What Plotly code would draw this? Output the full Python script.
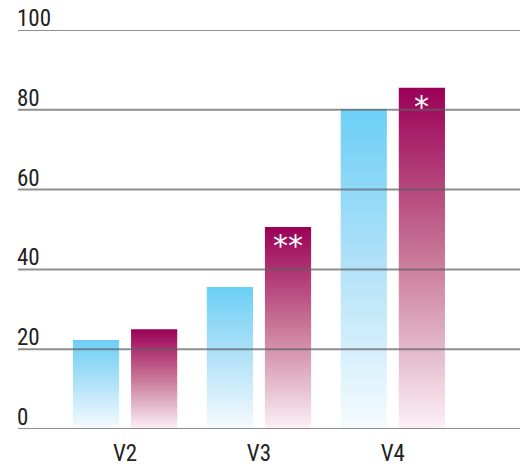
import plotly.graph_objects as go

categories = ["V2", "V3", "V4"]
series_a = [22.3, 35.6, 80.2]
series_b = [25.0, 50.6, 85.5]
marks_b = ["", "**", "*"]
y_ticks = [0, 20, 40, 60, 80, 100]

FONT = "Liberation Sans Narrow, Roboto Condensed, Roboto, sans-serif"
BAR_W = 0.345
OFFSET = 0.217

blue_scale = [[0.0, "#f6fbfe"], [0.5, "#b3e2f8"], [1.0, "#6ccff6"]]
red_scale = [[0.0, "#fcf1f6"], [0.5, "#c97898"], [1.0, "#9b0057"]]

fig = go.Figure()


def add_bar(center, value, scale):
    x0, x1 = center - BAR_W / 2, center + BAR_W / 2
    fig.add_trace(
        go.Scatter(
            x=[x0, x1, x1, x0, x0],
            y=[0, 0, value, value, 0],
            mode="lines",
            line={"width": 0},
            fill="toself",
            fillgradient={"type": "vertical", "colorscale": scale},
            hoverinfo="skip",
            showlegend=False,
        )
    )


for i, cat in enumerate(categories):
    add_bar(i - OFFSET, series_a[i], blue_scale)
    add_bar(i + OFFSET, series_b[i], red_scale)
    if marks_b[i]:
        fig.add_annotation(
            x=i + OFFSET, y=series_b[i], text=marks_b[i],
            showarrow=False, yanchor="top", yshift=1,
            font={"family": "DejaVu Sans", "size": 30, "color": "white"},
        )

# gridlines drawn over the bars, labels sit just above each line
for t in y_ticks:
    fig.add_shape(
        type="line", xref="paper", x0=0, x1=1, y0=t, y1=t,
        line={"color": "rgba(95,95,100,0.7)", "width": 2},
        layer="above",
    )
    fig.add_annotation(
        x=0, xref="paper", xanchor="left", xshift=-2,
        y=t, yanchor="bottom", yshift=-3, borderpad=0,
        text=str(t), showarrow=False,
        font={"family": FONT, "size": 23, "color": "#222222"},
    )

fig.update_layout(
    width=527, height=466,
    margin={"l": 18, "r": 7, "t": 30, "b": 37},
    plot_bgcolor="white", paper_bgcolor="white",
    font={"family": FONT, "size": 23, "color": "#222222"},
    xaxis={
        "range": [-0.8, 2.95], "automargin": False,
        "tickmode": "array", "tickvals": list(range(len(categories))), "ticktext": categories,
        "showgrid": False, "zeroline": False, "showline": False, "ticks": "",
        "ticklabelstandoff": 8,
    },
    yaxis={
        "range": [0, 100], "automargin": False,
        "showticklabels": False,
        "showgrid": False, "zeroline": False, "showline": False, "ticks": "",
    },
)

# drop the default page margin so the figure fills the window exactly
fig.write_html(
    "out.html",
    config={"displayModeBar": False},
    post_script="document.body.style.margin = '0';",
)
